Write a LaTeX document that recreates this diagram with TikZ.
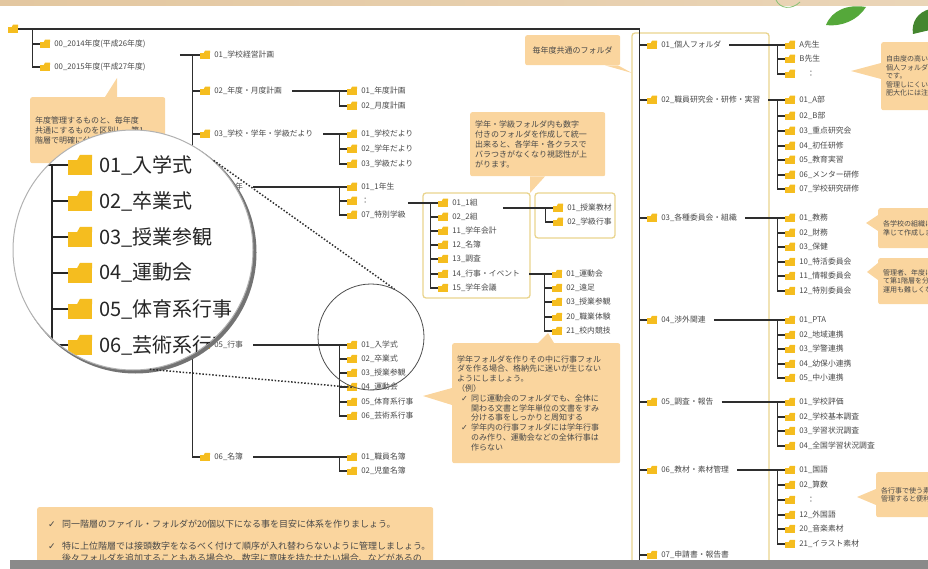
\documentclass[tikz,border=0pt]{standalone}
\usepackage{fontspec}
\setmainfont{Noto Sans CJK JP}
\newfontfamily\sym{DejaVu Sans}
\usetikzlibrary{positioning}

\definecolor{fy}{HTML}{F5BD1F}
\definecolor{peach}{HTML}{FAD59E}
\definecolor{gold}{HTML}{E9D48E}
\definecolor{ln}{HTML}{2E2E2E}
\definecolor{tx}{HTML}{484848}
\definecolor{band}{HTML}{E3C7A0}
\definecolor{leafc}{HTML}{55A83A}
\definecolor{barc}{HTML}{8A8A8A}

% one level of a folder tree: prefix, folder x, list of y/label
\newcommand\folders[3]{%
  \foreach \yy/\txt [count=\i] in {#3} {
    \node[fold] (#1\i) at (#2,\yy) {};
    \node[lbl, right=3pt of #1\i] (#1\i-t) {\txt};
    \draw[br] ([xshift=-7pt]#11.west) |- (#1\i.west);
  }}

\begin{document}
\begin{tikzpicture}[x=1pt, y=-1pt,
    fold/.style={inner sep=0pt, minimum width=#1, minimum height=#1*0.85,
      path picture={
        \fill[fy] (path picture bounding box.south west) rectangle ([yshift=-#1*0.22]path picture bounding box.north east);
        \fill[fy] ([xshift=-#1*0.5]path picture bounding box.north east) -- ([xshift=-#1*0.62, yshift=-#1*0.22]path picture bounding box.north east)
          -- ([yshift=-#1*0.22]path picture bounding box.north east) -- (path picture bounding box.north east) -- cycle;}},
    fold/.default=10pt,
    lbl/.style={font=\fontsize{7.8}{9}\selectfont, text=tx, inner sep=1pt},
    biglbl/.style={font=\fontsize{20}{24}\selectfont, text=black!85, inner sep=1pt},
    br/.style={draw=ln, line width=1.1pt},
    bigbr/.style={draw=black!85, line width=2.6pt},
    callout/.style={fill=peach, rounded corners=2pt, align=left, anchor=north west,
      font=\fontsize{8}{10}\selectfont, text=tx, inner sep=5pt},
    goldbox/.style={draw=gold, line width=1.3pt, rounded corners=3pt},
    dots/.style={draw=ln, line width=1.5pt, dash pattern=on 1.5pt off 1.8pt}
]
\useasboundingbox (0,0) rectangle (928,569);
\clip (0,0) rectangle (928,569);

% framed groups
\draw[goldbox] (632,33) rectangle (769,600);
\draw[goldbox] (423,193) rectangle (530,298);
\draw[goldbox] (535,193) rectangle (615,238);

% root and yearly folders
\node[fold] (root) at (13,29) {};
\folders{y}{45}{44/00\_2014年度(平成26年度), 67/00\_2015年度(平成27年度)}
\draw[br] (root.east) -| ([xshift=-7pt]y1.west);

% left column
\folders{l}{205}{55/01\_学校経営計画, 91/02\_年度・月度計画, 134/03\_学校・学年・学級だより,
  187/04\_学年, 345/05\_行事, 457/06\_名簿}
\draw[br] ([xshift=-20pt]l1.west) -- (l1.west);
\folders{la}{352}{91/01\_年度計画, 106/02\_月度計画}
\folders{lb}{352}{134/01\_学校だより, 149/02\_学年だより, 164/03\_学級だより}
\folders{lc}{352}{187/01\_1年生, 201/：, 215/07\_特別学級}
\folders{ld}{352}{345/01\_入学式, 359/02\_卒業式, 373/03\_授業参観, 387/04\_運動会,
  402/05\_体育系行事, 416/06\_芸術系行事}
\folders{le}{352}{457/01\_職員名簿, 471/02\_児童名簿}
\foreach \p/\c in {l2/la1, l3/lb1, l4/lc1, l5/ld1, l6/le1}
  \draw[br] ([xshift=9pt]\p-t.east) -- (\c.west);

% grade folders
\folders{g}{443}{203/01\_1組, 217/02\_2組, 231/11\_学年会計, 245/12\_名簿, 259/13\_調査,
  274/14\_行事・イベント, 288/15\_学年会議}
\draw[br] ([xshift=-30pt]g1.west) -- (g1.west);
\folders{k}{558}{208/01\_授業教材, 222/02\_学級行事}
\draw[br] ([xshift=-50pt]k1.west) -- (k1.west);
\folders{e}{557}{274/01\_運動会, 288/02\_遠足, 302/03\_授業参観, 317/20\_職業体験, 331/21\_校内競技}
\draw[br] ([xshift=8pt]g6-t.east) -- (e1.west);

% right column
\folders{r}{652}{45/01\_個人フォルダ, 100/02\_職員研究会・研修・実習, 218/03\_各種委員会・組織,
  320/04\_渉外関連, 402/05\_調査・報告, 470/06\_教材・素材管理, 555/07\_申請書・報告書}
\draw[br] (root.east) -| ([xshift=-7pt]r1.west);
\draw[br] ([xshift=-7pt]r7.west) -- ++(0,-20pt);
\folders{ra}{790}{45/A先生, 59/B先生, 74/\quad：}
\folders{rb}{790}{100/01\_A部, 116/02\_B部, 131/03\_重点研究会, 146/04\_初任研修,
  160/05\_教育実習, 175/06\_メンター研修, 189/07\_学校研究研修}
\folders{rc}{790}{218/01\_教務, 233/02\_財務, 247/03\_保健, 262/10\_特活委員会,
  276/11\_情報委員会, 291/12\_特別委員会}
\folders{rd}{790}{320/01\_PTA, 335/02\_地域連携, 349/03\_学警連携, 364/04\_幼保小連携, 378/05\_中小連携}
\folders{re}{790}{402/01\_学校評価, 417/02\_学校基本調査, 431/03\_学習状況調査, 446/04\_全国学習状況調査}
\folders{rf}{790}{470/01\_国語, 485/02\_算数, 500/\quad：, 515/12\_外国語, 529/20\_音楽素材, 544/21\_イラスト素材}
\foreach \p/\c in {r1/ra1, r2/rb1, r3/rc1, r4/rd1, r5/re1, r6/rf1}
  \draw[br] ([xshift=7pt]\p-t.east) -- (\c.west);

% callouts
\node[callout, text width=125pt, minimum height=66pt] (nenCall) at (30,97)
  {年度管理するものと、毎年度\\共通にするものを区別し、第1\\階層で明確に分けましょう。};
\coordinate (nenTip) at (117,78);
\fill[peach] ([xshift=75pt]nenCall.north west) -- (nenTip) -- ([xshift=87pt]nenCall.north west) -- cycle;

\node[callout, align=center, minimum width=95pt, minimum height=30pt] (evCall) at (525,35) {毎年度共通のフォルダ};
\coordinate (evTip) at (632,73);
\fill[peach] ([xshift=80pt]evCall.south west) -- (evTip) -- ([xshift=93pt]evCall.south west) -- cycle;

\node[callout, text width=125pt, minimum height=64pt] (gradeCall) at (470,112)
  {学年・学級フォルダ内も数字\\付きのフォルダを作成して統一\\出来ると、各学年・各クラスで\\バラつきがなくなり視認性が上\\がります。};
\coordinate (gradeTip) at (530,193);
\fill[peach] ([xshift=60pt]gradeCall.south west) -- (gradeTip) -- ([xshift=75pt]gradeCall.south west) -- cycle;

\node[callout, text width=158pt, minimum height=120pt, font=\fontsize{8}{9.8}\selectfont] (eventCall) at (452,343)
  {学年フォルダを作りその中に行事フォル\\ダを作る場合、格納先に迷いが生じない\\ようにしましょう。\\（例）\\
   \hspace*{4pt}\makebox[10pt][l]{\sym ✓}同じ運動会のフォルダでも、全体に\\
   \hspace*{14pt}関わる文書と学年単位の文書をすみ\\
   \hspace*{14pt}分ける事をしっかりと周知する\\
   \hspace*{4pt}\makebox[10pt][l]{\sym ✓}学年内の行事フォルダには学年行事\\
   \hspace*{14pt}のみ作り、運動会などの全体行事は\\
   \hspace*{14pt}作らない};
\coordinate (eventTipA) at (548,333);
\coordinate (eventTipB) at (423,396);
\fill[peach] ([xshift=86pt]eventCall.north west) -- (eventTipA) -- ([xshift=102pt]eventCall.north west) -- cycle;
\fill[peach] ([yshift=-45pt]eventCall.north west) -- (eventTipB) -- ([yshift=-62pt]eventCall.north west) -- cycle;

\node[callout, font=\fontsize{9}{12}\selectfont, minimum width=396pt, minimum height=68pt,
  text width=374pt, inner xsep=11pt] (ruleCall) at (37,507)
  {\makebox[14pt][l]{\sym ✓}同一階層のファイル・フォルダが20個以下になる事を目安に体系を作りましょう。\\[10pt]
   \makebox[14pt][l]{\sym ✓}特に上位階層では接頭数字をなるべく付けて順序が入れ替わらないように管理しましょう。\\
   \hspace*{14pt}後々フォルダを追加することもある場合や、数字に意味を持たせたい場合、などがあるの};

% side notes on the right edge
\node[callout, font=\fontsize{7}{8.5}\selectfont, text width=80pt, minimum height=68pt] (rc1) at (881,42)
  {自由度の高いフォルダが\\個人フォルダになりがち\\です。\\管理しにくいため、\\肥大化には注意しましょう。};
\coordinate (rc1Tip) at (851,71);
\fill[peach] ([yshift=-21pt]rc1.north west) -- (rc1Tip) -- ([yshift=-37pt]rc1.north west) -- cycle;
\node[callout, font=\fontsize{7}{8.5}\selectfont, text width=80pt, minimum height=40pt] (rc2) at (878,208)
  {各学校の組織に\\準じて作成します。};
\coordinate (rc2Tip) at (866,223);
\fill[peach] ([yshift=-7pt]rc2.north west) -- (rc2Tip) -- ([yshift=-23pt]rc2.north west) -- cycle;
\node[callout, font=\fontsize{7}{8.5}\selectfont, text width=80pt, minimum height=46pt] (rc3) at (878,258)
  {管理者、年度によっ\\て第1階層を分けると\\運用も難しくなります。};
\coordinate (rc3Tip) at (867,272);
\fill[peach] ([yshift=-5pt]rc3.north west) -- (rc3Tip) -- ([yshift=-22pt]rc3.north west) -- cycle;
\node[callout, font=\fontsize{7}{8.5}\selectfont, text width=80pt, minimum height=45pt] (rc4) at (876,472)
  {各行事で使う素材は\\管理すると便利です。};
\coordinate (rc4Tip) at (857,497);
\fill[peach] ([yshift=-17pt]rc4.north west) -- (rc4Tip) -- ([yshift=-33pt]rc4.north west) -- cycle;

% magnifier
\coordinate (magc) at (133,250);
\fill[black!55] ([xshift=2.5pt,yshift=-2.5pt]magc) circle (121pt);
\node[circle, fill=white, draw=gray!60, line width=1pt, minimum size=240pt, inner sep=0pt] (mag) at (magc) {};
\begin{scope}
  \clip (mag.center) circle (119.5pt);
  \foreach \yy/\txt [count=\i] in {165/01\_入学式, 201/02\_卒業式, 237/03\_授業参観, 273/04\_運動会,
      309/05\_体育系行事, 345/06\_芸術系行事} {
    \node[fold=24pt] (m\i) at (80,\yy) {};
    \node[biglbl, right=6pt of m\i] (m\i-t) {\txt};
    \draw[bigbr] ([xshift=-16pt]m1.west) |- (m\i.west);
  }
  \draw[bigbr] ([xshift=-21pt]m1.west) -- (m1.west);
  \draw[bigbr] ([xshift=-16pt]m6.west) -- ++(0,-40pt);
\end{scope}
\node[circle, draw=ln!85, line width=0.8pt, minimum size=106pt, inner sep=0pt] (zoomC) at (371,337) {};
\draw[dots] (mag.48) -- (zoomC.64);
\draw[dots] (mag.-82) -- (zoomC.-109);

% page trim: band, leaves, bottom bar
\shade[left color=band, right color=band!75] (0,0) rectangle (928,6);
\draw[leafc!70, line width=0.8pt] (776,0) .. controls (780,9) and (792,10) .. (800,2);
\fill[leafc] (826,25) .. controls (832,10) and (848,4) .. (866,7) .. controls (858,20) and (842,27) .. cycle;
\fill[leafc!80!black] (913,34) .. controls (911,22) and (918,12) .. (930,9) -- (930,30) -- cycle;
\fill[barc] (10,560) rectangle (928,569);
\end{tikzpicture}
\end{document}
